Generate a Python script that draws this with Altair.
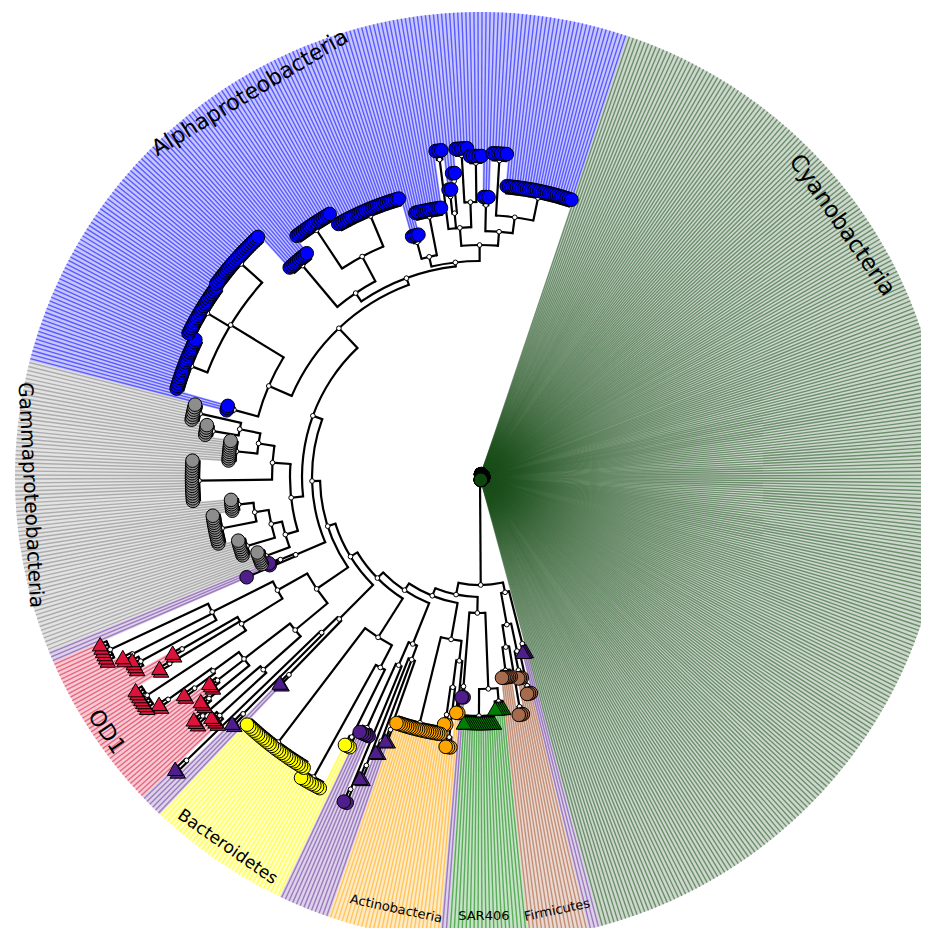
import math
import pandas as pd
import altair as alt

OUTER_R = 465          # radius of the coloured rim
START = 18.5           # angle (deg, clockwise from north) of the first leaf slot
STEP = 0.5             # angular width of one leaf slot

# ---------------- clades ----------------
clade_names = ["Cyanobacteria", "Other", "Firmicutes", "SAR406", "Actinobacteria",
               "Bacteroidetes", "OD1", "Gammaproteobacteria", "Alphaproteobacteria"]
clade_marker = ["#0c460c", "#4e1f8b", "#a56b4c", "#008000", "#ffa500",
                "#ffff00", "#dc143c", "#8d8d8d", "#0000ff"]
clade_wedge = ["#1e501e", "#663399", "#a0522d", "#008000", "#ffa500",
               "#ffff00", "#dc143c", "#808080", "#0000ff"]

# ---------------- leaf groups (clockwise) ----------------
grp_name = ["cy", "l1", "f1", "f2", "f3", "f4", "s1", "s2", "l2", "o1", "o2", "o3", "o4",
            "p1", "p2", "p3", "p4", "p5", "y1", "y2", "y3", "q1", "q2", "q3",
            "d1", "d2", "d3", "d4", "d5", "d6", "d7", "d8", "d9", "d10", "d11", "d12",
            "r1", "r2", "g1", "g2", "g3", "g4", "g5", "g6", "g7", "g8",
            "a1", "a2a", "a2b", "a2c", "a3", "a4", "a5", "a6", "a7",
            "a8a", "a8b", "a8c", "a8d", "a8e", "a9a", "a9b", "a10"]
grp_clade = [0, 1, 2, 2, 2, 2, 3, 3, 1, 4, 4, 4, 4,
             1, 1, 1, 1, 1, 5, 5, 5, 1, 1, 1,
             6, 6, 6, 6, 6, 6, 6, 6, 6, 6, 6, 6,
             1, 1, 7, 7, 7, 7, 7, 7, 7, 7,
             8, 8, 8, 8, 8, 8, 8, 8, 8,
             8, 8, 8, 8, 8, 8, 8, 8]
grp_n = [293, 3, 3, 3, 3, 6, 5, 15, 2, 2, 3, 2, 21,
         2, 2, 2, 2, 5, 3, 8, 25, 2, 2, 2,
         4, 3, 3, 3, 2, 2, 7, 2, 2, 4, 2, 6,
         1, 2, 7, 8, 13, 6, 17, 10, 5, 7,
         3, 20, 20, 23, 10, 16, 27, 4, 12,
         3, 2, 2, 5, 5, 3, 6, 27]
grp_stem = [0, 172, 214, 197, 233, 195, 225, 239, 210, 225, 262, 240, 253,
            268, 282, 310, 338, 275, 290, 343, 333, 275, 335, 408,
            353, 366, 350, 332, 355, 383, 398, 362, 344, 386, 390, 408,
            254, 216, 228, 243, 263, 243, 281, 245, 271, 287,
            255, 309, 318, 320, 276, 296, 283, 243, 265,
            320, 282, 297, 322, 314, 272, 317, 285]
grp_leaf = [3, 180, 222, 205, 241, 202, 232, 246, 221, 237, 272, 250, 260,
            280, 294, 324, 352, 282, 300, 350, 340, 287, 349, 422,
            360, 375, 358, 340, 367, 393, 405, 373, 354, 393, 400, 415,
            254, 228, 235, 250, 270, 250, 288, 252, 278, 294,
            262, 316, 325, 327, 283, 303, 290, 250, 272,
            329, 289, 305, 329, 321, 280, 324, 292]
grp_parent = ["root", "Cf", "Fa", "Fa", "Fb", "Fb", "Sn", "Sn", "Cs", "Oa", "Ob", "Ob", "Ca",
              "Pa", "Pa", "Pa", "Pb", "Pb", "Ya", "Ya", "Cb", "Cl4", "Ln", "Ln",
              "Dl1", "Dl1", "Dl2", "Dl2", "Dl3", "Dl3", "Du1", "Du1", "Du1", "Du2", "Du2", "Du2",
              "Cl5", "Cl5", "Gn1", "Gn2", "Gn3", "Gn3", "Gn4", "Gn5", "Gn6", "Gn6",
              "Al", "A2", "A2", "A2", "Am1", "Am2", "Am2", "Ar1", "Ar1",
              "Ar3", "Ar6", "Ar6", "Ar7", "Ar7", "Ar4", "Ar5", "Ar5"]
grp_shape = ["circle", "triangle-up", "circle", "circle", "circle", "circle",
             "triangle-up", "triangle-up", "circle", "circle", "circle", "circle", "circle",
             "triangle-up", "triangle-up", "triangle-up", "circle", "circle",
             "circle", "circle", "circle", "triangle-up", "triangle-up", "triangle-up"] + \
            ["triangle-up"] * 12 + ["circle"] * 27
shape_size = {"circle": 185, "triangle-up": 240}

# ---------------- internal nodes ----------------
node_name = ["root", "T", "Cf", "Fn", "Fa", "Fb", "N0", "Cs", "Sn", "N1", "Ca", "Oa", "Ob",
             "N2", "Cl3", "Pa", "Pb", "N3", "Cb", "Ya", "N4", "Cl4", "Ln",
             "N5", "Cd", "Dlow", "Dl1", "Dl2", "Dl3", "Dup", "Du1", "Du2",
             "N6", "Cl5", "N7", "Cg", "Gn1", "Gn2", "Gn3", "Gn4", "Gn5", "Gn6",
             "Cal", "Al", "A2", "Am", "Am1", "Am2", "Ar", "Ar1", "Ar2", "Ar3", "Ar6", "Ar7",
             "Ar4", "Ar5"]
node_parent = ["", "root", "T", "Cf", "Fn", "Fn", "T", "N0", "Cs", "N0", "N1", "Ca", "Oa",
               "N1", "N2", "Cl3", "Cl3", "N2", "N3", "Cb", "N3", "N4", "Cl4",
               "N4", "N5", "Cd", "Dlow", "Dlow", "Dl2", "Cd", "Dup", "Dup",
               "N5", "N6", "N6", "N7", "Cg", "Gn1", "Gn2", "Cg", "Gn4", "Gn5",
               "N7", "Cal", "Al", "Cal", "Am", "Am1", "Am", "Ar", "Ar", "Ar2", "Ar3", "Ar3",
               "Ar2", "Ar4"]
node_r = [0, 108, 118, 150, 178, 172, 120, 136, 212, 128, 165, 185, 212,
          136, 180, 195, 205, 144, 190, 215, 152, 200, 222,
          160, 198, 240, 290, 298, 330, 232, 280, 300,
          168, 200, 178, 190, 203, 214, 228, 208, 224, 245,
          205, 230, 292, 212, 222, 250, 216, 226, 232, 250, 265, 275,
          246, 262]

# ---------------- labels ----------------
label_text = ["Cyanobacteria", "Alphaproteobacteria", "Gammaproteobacteria", "OD1",
              "Bacteroidetes", "Actinobacteria", "SAR406", "Firmicutes"]
label_theta = [55.2, 329.1, 267.7, 235.7, 214.3, 191.0, 179.5, 169.9]
label_r = [441, 448, 450, 452, 448, 440, 439, 440]
label_rot = [55, 329, 87, 56, 35, 12, 0, 348]
label_size = [23, 22, 20, 22, 17, 13, 13, 13]

# ================= geometry =================
def pol(t, r):
    a = math.radians(t)
    return r * math.sin(a), r * math.cos(a)

first = []
k = 0
for n in grp_n:
    first.append(k)
    k += n

def leaf_angle(i):
    return START + STEP * (i + 0.5)

nr = dict(zip(node_name, node_r))
children = {nm: [] for nm in node_name}
for nm, p in zip(node_name, node_parent):
    if p:
        children[p].append(("node", nm))
for i, p in enumerate(grp_parent):
    children[p].append(("grp", i))

def lo(item):
    kind, key = item
    if kind == "grp":
        return first[key]
    return min(lo(c) for c in children[key])

for key in children:
    children[key].sort(key=lo)

def angle(item):
    kind, key = item
    if kind == "grp":
        return (leaf_angle(first[key]) + leaf_angle(first[key] + grp_n[key] - 1)) / 2
    ch = children[key]
    return (angle(ch[0]) + angle(ch[-1])) / 2

radials, arcs, dots = [], [], []

def add_radial(t, r0, r1):
    if r1 - r0 > 0.1:
        x0, y0 = pol(t, r0)
        x1, y1 = pol(t, r1)
        radials.append({"x": x0, "y": y0, "x2": x1, "y2": y1})

for nm, p in zip(node_name, node_parent):
    if not p:
        continue
    t = angle(("node", nm))
    add_radial(t, nr[p], nr[nm])
    ch = children[nm]
    t0, t1 = angle(ch[0]), angle(ch[-1])
    arcs.append({"t0": min(t0, t1), "t1": max(t0, t1), "ro": nr[nm] + 1.1, "ri": nr[nm] - 1.1})
    dx, dy = pol(t, nr[nm])
    dots.append({"x": dx, "y": dy})

leaves, wedges, wlines = [], [], []
for i in range(len(grp_name)):
    c = grp_clade[i]
    pr = nr[grp_parent[i]]
    ta = angle(("grp", i))
    a0 = leaf_angle(first[i])
    a1 = leaf_angle(first[i] + grp_n[i] - 1)
    if grp_n[i] == 1:
        add_radial(ta, pr, grp_leaf[i])
    else:
        add_radial(ta, pr, grp_stem[i])
        if grp_stem[i] > 0:
            arcs.append({"t0": a0, "t1": a1, "ro": grp_stem[i] + 1.1, "ri": grp_stem[i] - 1.1})
            dx, dy = pol(ta, grp_stem[i])
            dots.append({"x": dx, "y": dy})
    wedges.append({"t0": a0 - STEP / 2, "t1": a1 + STEP / 2, "ro": OUTER_R,
                   "ri": grp_leaf[i], "col": clade_wedge[c]})
    for j in range(grp_n[i]):
        t = leaf_angle(first[i] + j)
        if grp_n[i] > 1:
            add_radial(t, grp_stem[i], grp_leaf[i])
        lx, ly = pol(t, grp_leaf[i])
        ox, oy = pol(t, OUTER_R)
        wlines.append({"x": lx, "y": ly, "x2": ox, "y2": oy, "col": clade_wedge[c]})
        leaves.append({"x": lx, "y": ly, "col": clade_marker[c], "shape": grp_shape[i],
                       "sz": shape_size[grp_shape[i]]})

lab = []
for s, t, r, rot, fs in zip(label_text, label_theta, label_r, label_rot, label_size):
    x, y = pol(t, r)
    lab.append({"x": x, "y": y, "text": s, "rot": rot, "fs": fs})

wedge_df = pd.DataFrame(wedges).assign(cx=0.0, cy=0.0)
arc_df = pd.DataFrame(arcs).assign(cx=0.0, cy=0.0)
rad_df = pd.DataFrame(radials)
dot_df = pd.DataFrame(dots)
leaf_df = pd.DataFrame(leaves)
wl_df = pd.DataFrame(wlines)
lab_df = pd.DataFrame(lab)

# ================= chart =================
W, H = 913, 920
xs = alt.Scale(domain=[-472, W - 472], nice=False, zero=False)
ys = alt.Scale(domain=[-(H - 469), 469], nice=False, zero=False)
ths = alt.Scale(domain=[0, 360], range=[0, 2 * math.pi], nice=False, zero=False)
rs = alt.Scale(type="linear", domain=[0, OUTER_R], range=[0, OUTER_R], nice=False, zero=True)

def arc_layer(df, **mark):
    return alt.Chart(df).mark_arc(clip=True, **mark).encode(
        x=alt.X("cx:Q", scale=xs, axis=None),
        y=alt.Y("cy:Q", scale=ys, axis=None),
        theta=alt.Theta("t0:Q", scale=ths, stack=None),
        theta2="t1",
        radius=alt.Radius("ro:Q", scale=rs),
        radius2="ri",
    )

wedge_layer = arc_layer(wedge_df, fillOpacity=0.22, strokeWidth=0).encode(
    fill=alt.Fill("col:N", scale=None))

def rule_layer(df, **mark):
    return alt.Chart(df).mark_rule(clip=True, **mark).encode(
        x=alt.X("x:Q", scale=xs, axis=None),
        y=alt.Y("y:Q", scale=ys, axis=None),
        x2="x2", y2="y2",
    )

wline_layer = rule_layer(wl_df, strokeWidth=1.4, opacity=0.55).encode(
    color=alt.Color("col:N", scale=None))
branch_arc_layer = arc_layer(arc_df, color="black")
branch_layer = rule_layer(rad_df, strokeWidth=2.2, color="black", strokeCap="square")

dot_layer = alt.Chart(dot_df).mark_point(
    shape="circle", size=22, filled=True, fill="white", stroke="black",
    strokeWidth=1, opacity=1, clip=True
).encode(x=alt.X("x:Q", scale=xs, axis=None), y=alt.Y("y:Q", scale=ys, axis=None))

leaf_layer = alt.Chart(leaf_df).mark_point(
    filled=True, stroke="black", strokeWidth=1, opacity=1, clip=True
).encode(
    x=alt.X("x:Q", scale=xs, axis=None),
    y=alt.Y("y:Q", scale=ys, axis=None),
    fill=alt.Fill("col:N", scale=None),
    shape=alt.Shape("shape:N", scale=None),
    size=alt.Size("sz:Q", scale=None),
)

label_layer = alt.Chart(lab_df).mark_text(
    font="DejaVu Sans", color="black", align="center", baseline="middle"
).encode(
    x=alt.X("x:Q", scale=xs, axis=None),
    y=alt.Y("y:Q", scale=ys, axis=None),
    text="text:N",
    angle=alt.Angle("rot:Q", scale=None),
    size=alt.Size("fs:Q", scale=None),
)

chart = alt.layer(
    wedge_layer, wline_layer, branch_arc_layer, branch_layer, dot_layer, leaf_layer, label_layer
).properties(
    width=W, height=H, padding=0, autosize=alt.AutoSizeParams(type="none")
).configure_view(stroke=None)

chart.save("out.html", embed_options={"renderer": "svg", "actions": False})
